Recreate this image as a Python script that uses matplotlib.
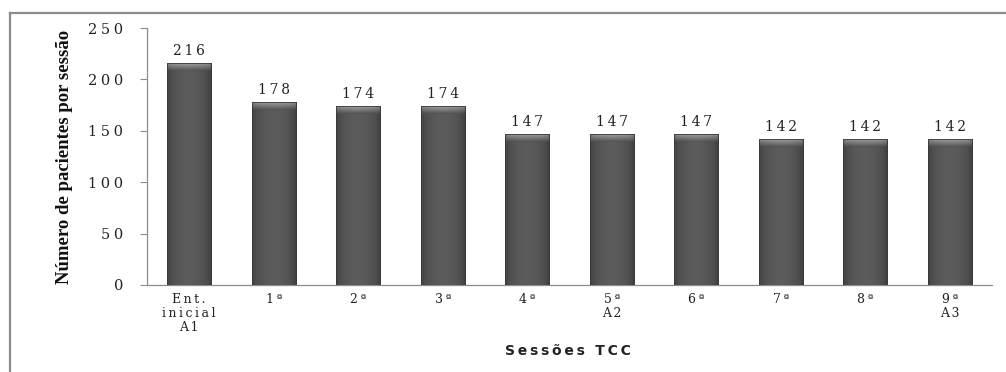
import numpy as np
import matplotlib
matplotlib.use("Agg")
import matplotlib.pyplot as plt
from matplotlib.patches import Rectangle
from matplotlib.lines import Line2D

categories = ["Ent.\ninicial\nA1", "1ª", "2ª", "3ª", "4ª", "5ª\nA2", "6ª", "7ª", "8ª", "9ª\nA3"]
pacientes = [216, 178, 174, 174, 147, 147, 147, 142, 142, 142]
y_ticks = [0, 50, 100, 150, 200, 250]


def spaced(s, gap="\u2009"):
    """Letter-spaced version of a (possibly multi-line) label."""
    return "\n".join(gap.join(line) for line in s.split("\n"))


fig = plt.figure(figsize=(10.06, 3.72), dpi=100)
fig.patch.set_facecolor("white")

# Frame lines (top and left) around the chart area
fig.add_artist(Line2D([9.5 / 1006, 9.5 / 1006], [0, 1 - 12.5 / 372],
                      transform=fig.transFigure, color="#8c8c8c", lw=1.6))
fig.add_artist(Line2D([9.5 / 1006, 1], [1 - 12.5 / 372, 1 - 12.5 / 372],
                      transform=fig.transFigure, color="#8c8c8c", lw=1.6))

ax = fig.add_axes([147 / 1006, 1 - 285 / 372, (992 - 147) / 1006, (285 - 28) / 372])
x = np.arange(len(categories))
width = 0.52
bars = ax.bar(x, pacientes, width=width, color="#4f4f4f", edgecolor="#3a3a3a",
              linewidth=0.6, zorder=2)

# Shaded body and bevelled top for each bar
grad = np.linspace(0, 1, 64)
shade = 0.25 + 0.11 * np.sin(np.pi * grad) ** 0.6
img = np.tile(shade, (2, 1))
for b, v in zip(bars, pacientes):
    x0 = b.get_x()
    im = ax.imshow(np.dstack([img, img, img]), extent=[x0, x0 + width, 0, v],
                   aspect="auto", zorder=3, interpolation="bilinear")
    im.set_clip_path(b)
    cap_h = 8
    cap = np.linspace(0.66, 0.33, 16)[:, None] * np.ones((1, 64))
    cap = cap * (0.82 + 0.18 * np.sin(np.pi * grad) ** 0.5)
    im2 = ax.imshow(np.dstack([cap, cap, cap]), extent=[x0, x0 + width, v - cap_h, v],
                    aspect="auto", zorder=4, interpolation="bilinear")
    im2.set_clip_path(b)
    ax.add_patch(Rectangle((x0, 0), width, v, fill=False, edgecolor="#383838",
                           linewidth=0.6, zorder=5))
    ax.text(b.get_x() + width / 2, v + 5, spaced(str(v)), ha="center", va="bottom",
            fontsize=10, family="DejaVu Serif", color="#222222", zorder=6)

ax.set_xlim(-0.5, len(categories) - 0.5)
ax.set_ylim(0, 250)
ax.set_yticks(y_ticks)
ax.set_yticklabels([spaced(str(t), "\u2005") for t in y_ticks], family="DejaVu Serif",
                   fontsize=10.5, color="#222222")
ax.set_xticks(x)
ax.set_xticklabels([spaced(c) for c in categories], family="DejaVu Serif", fontsize=9,
                   color="#222222", linespacing=1.1)
ax.tick_params(axis="x", length=0, pad=6)
ax.tick_params(axis="y", direction="out", length=5, width=0.8, color="#8c8c8c", pad=12)

for s in ["top", "right"]:
    ax.spines[s].set_visible(False)
ax.spines["left"].set_color("#8c8c8c")
ax.spines["bottom"].set_color("#8c8c8c")
ax.spines["left"].set_linewidth(0.9)
ax.spines["bottom"].set_linewidth(0.9)

ax.set_ylabel("Número de pacientes por sessão", family="Liberation Serif", fontsize=13.5,
              fontweight="bold", color="#111111")
ax.yaxis.set_label_coords(-0.088, 0.5)
fig.text(568 / 1006, 1 - 351 / 372, spaced("Sessões TCC"), ha="center", va="center",
         family="DejaVu Sans", fontweight="bold", fontsize=10, color="#222222")

fig.savefig("out.png", dpi=100, facecolor="white")
